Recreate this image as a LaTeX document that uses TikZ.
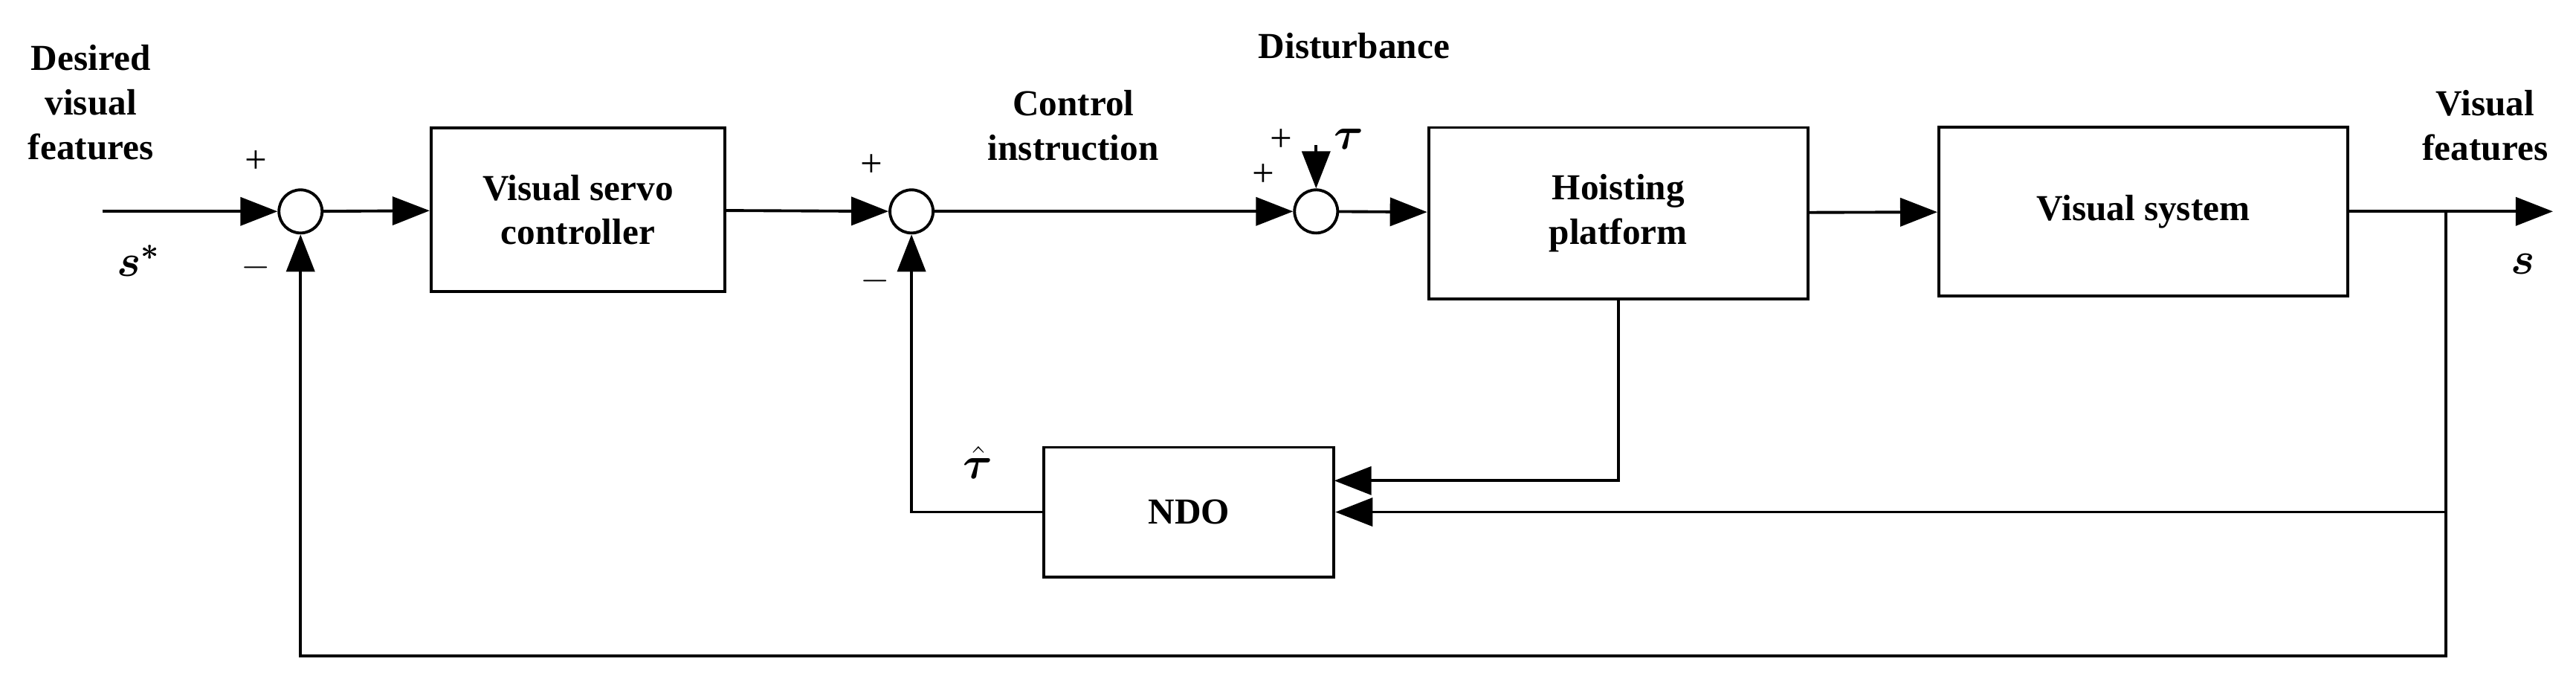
\documentclass[tikz,border=0pt]{standalone}
\usepackage{amsmath,bm}
\usepackage{fontspec}
\setmainfont{Liberation Serif}
\usetikzlibrary{arrows.meta,calc,positioning}

\begin{document}
\begin{tikzpicture}[x=0.0222cm,y=-0.0222cm,
    block/.style={draw, line width=1.1pt, align=center, font=\fontsize{14}{17}\selectfont\bfseries},
    sum/.style={draw, circle, line width=1.1pt, minimum size=0.58cm, inner sep=0pt},
    arr/.style={-{Triangle[length=0.5cm, width=0.38cm]}, line width=1.1pt},
    line/.style={line width=1.1pt},
    lbl/.style={font=\fontsize{14}{17}\selectfont\bfseries, align=center},
    sgn/.style={font=\fontsize{15}{17}\selectfont}
]
    \useasboundingbox (0,0) rectangle (1560,409);

    % Blocks
    \node[sum] (s1) at (182,128) {};
    \node[block, minimum width=3.95cm, minimum height=2.2cm] (vsc) at (350,127) {Visual servo\\controller};
    \node[sum] (s2) at (552,128) {};
    \node[sum] (s3) at (797,128) {};
    \node[block, minimum width=5.1cm, minimum height=2.3cm] (hp) at (980,129) {Hoisting\\platform};
    \node[block, minimum width=5.5cm, minimum height=2.27cm] (vs) at (1298,128) {Visual system};
    \node[block, minimum width=3.9cm, minimum height=1.74cm] (ndo) at (720,310) {NDO};

    % Helper points
    \coordinate (in) at (62,128);
    \coordinate (out) at (1546,128);
    \coordinate (br) at (1481,128);
    \coordinate (dist) at (797,88);
    \coordinate (ndo1) at (808,291);
    \coordinate (low) at (1481,397);

    % Forward path
    \draw[arr] (in) -- (s1);
    \draw[arr] (s1) -- (vsc);
    \draw[arr] (vsc) -- (s2);
    \draw[arr] (s2) -- (s3);
    \draw[arr] (s3) -- (hp);
    \draw[arr] (hp) -- (vs);
    \draw[arr] (vs) -- (out);
    \draw[arr] (dist) -- (s3);

    % Feedback paths
    \draw[arr] (hp.south) |- (ndo1);
    \draw[arr] (br) |- (ndo.east);
    \draw[arr] (ndo.west) -| (s2);
    \draw[arr] (br) -- (low) -| (s1);

    % Labels
    \node[lbl] at (55,62) {Desired\\visual\\features};
    \node[lbl] at (650,76) {Control\\instruction};
    \node[lbl] at (820,28) {Disturbance};
    \node[lbl] at (1505,76) {Visual\\features};
    \node[font=\fontsize{17}{20}\selectfont] at (84,158) {$\bm{s^*}$};
    \node[font=\fontsize{17}{20}\selectfont] at (1528,160) {$\bm{s}$};
    \node[font=\fontsize{17}{20}\selectfont] at (817,84) {$\bm{\tau}$};
    \node[font=\fontsize{17}{20}\selectfont] at (592,280) {$\bm{\hat{\tau}}$};
    \node[sgn] (p1) at (155,98) {+};
    \node[sgn] (m1) at (155,162) {$-$};
    \node[sgn] (p2) at (528,100) {+};
    \node[sgn] (m2) at (530,170) {$-$};
    \node[sgn] (p3) at (776,85) {+};
    \node[sgn] (p4) at (765,106) {+};
\end{tikzpicture}
\end{document}
